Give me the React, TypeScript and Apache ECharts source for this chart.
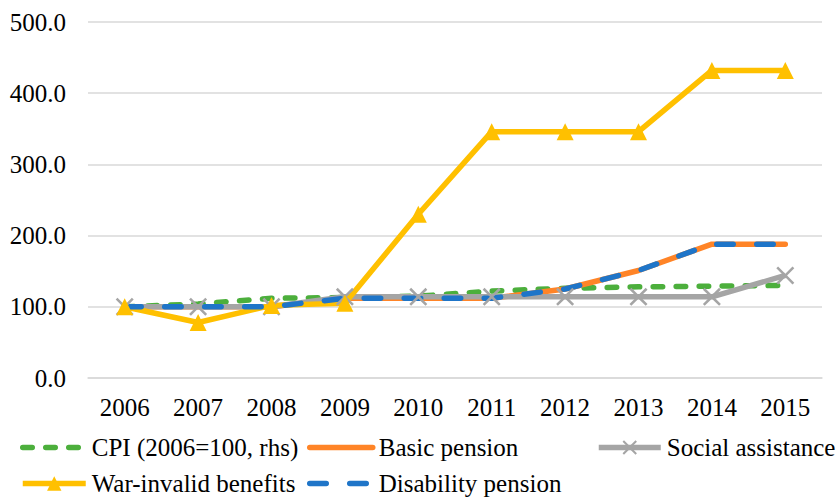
import React, { useEffect, useRef } from "react";
import * as echarts from "echarts";

const years = ["2006", "2007", "2008", "2009", "2010", "2011", "2012", "2013", "2014", "2015"];
const cpi = [100, 104, 112, 113, 115, 122, 126, 128, 129, 130];
const basicPension = [100, 100, 100, 112, 112, 112, 125, 151, 188, 188];
const socialAssistance = [100, 100, 100, 114, 114, 114, 114, 114, 114, 144];
const warInvalid = [100, 78, 102, 105, 230, 346, 346, 346, 432, 432];
const disabilityPension = [100, 100, 100, 112, 112, 112, 125, 151, 188, 188];
const yTicks = [0, 100, 200, 300, 400, 500];

const FONT = "'Times New Roman', 'Liberation Serif', 'DejaVu Serif', serif";
const X_PATH =
  "path://M0,1L1,0L5,4L9,0L10,1L6,5L10,9L9,10L5,6L1,10L0,9L4,5Z";
const W = 5.5;

export default function App() {
  const ref = useRef<HTMLDivElement>(null);
  useEffect(() => {
    if (!ref.current) return;
    const chart = echarts.init(ref.current, null, { renderer: "svg" });
    const textStyle = { fontFamily: FONT, fontSize: 25, color: "#000", fontWeight: "normal" };
    const mkLegend = (name: string, left: number, top: number, hideSymbol: boolean, w = 63) => ({
      data: [{ name, itemStyle: hideSymbol ? { opacity: 0 } : undefined }],
      left,
      top,
      padding: 0,
      itemWidth: w,
      itemHeight: 18,
      itemGap: 0,
      lineStyle: { width: W },
      textStyle: { ...textStyle, padding: [0, 0, 0, 1] },
      selectedMode: false,
    });
    chart.setOption({
      animation: false,
      textStyle: { fontFamily: FONT },
      grid: { left: 88, right: 16, top: 22, bottom: 121, containLabel: false },
      legend: [
        mkLegend("CPI (2006=100, rhs)", 20, 435, true),
        mkLegend("Basic pension", 307, 435, true),
        mkLegend("Social assistance", 596, 435, false, 62),
        mkLegend("War-invalid benefits", 20, 471, false),
        mkLegend("Disability pension", 307, 471, true),
      ],
      xAxis: {
        type: "category",
        data: years,
        boundaryGap: true,
        axisLine: { show: true, lineStyle: { color: "#D9D9D9", width: 1.5 } },
        axisTick: { show: false },
        axisLabel: { ...textStyle, margin: 17 },
      },
      yAxis: {
        type: "value",
        min: yTicks[0],
        max: yTicks[yTicks.length - 1],
        interval: 100,
        axisLine: { show: false },
        axisTick: { show: false },
        splitLine: { lineStyle: { color: "#D9D9D9", width: 1.5 } },
        axisLabel: { ...textStyle, margin: 22, formatter: (v: number) => v.toFixed(1) },
      },
      series: [
        {
          name: "CPI (2006=100, rhs)",
          type: "line",
          data: cpi,
          symbol: "none",
          lineStyle: { color: "#4CAF3C", width: W, type: [9.5, 13.5], cap: "round" },
          itemStyle: { color: "#4CAF3C" },
        },
        {
          name: "Basic pension",
          type: "line",
          data: basicPension,
          symbol: "none",
          lineStyle: { color: "#FF8427", width: W, cap: "round" },
          itemStyle: { color: "#FF8427" },
        },
        {
          name: "Social assistance",
          type: "line",
          data: socialAssistance,
          symbol: X_PATH,
          symbolSize: 18,
          lineStyle: { color: "#A5A5A5", width: W },
          itemStyle: { color: "#A5A5A5" },
        },
        {
          name: "War-invalid benefits",
          type: "line",
          data: warInvalid,
          symbol: "triangle",
          symbolSize: 17,
          lineStyle: { color: "#FFC000", width: W },
          itemStyle: { color: "#FFC000" },
        },
        {
          name: "Disability pension",
          type: "line",
          data: disabilityPension,
          symbol: "none",
          lineStyle: { color: "#1F75C8", width: W, type: [16.5, 23.5], cap: "round" },
          itemStyle: { color: "#1F75C8" },
        },
      ],
    });
    return () => chart.dispose();
  }, []);
  return <div ref={ref} style={{ width: 838, height: 499, position: "fixed", left: 0, top: 0, background: "#fff" }} />;
}
